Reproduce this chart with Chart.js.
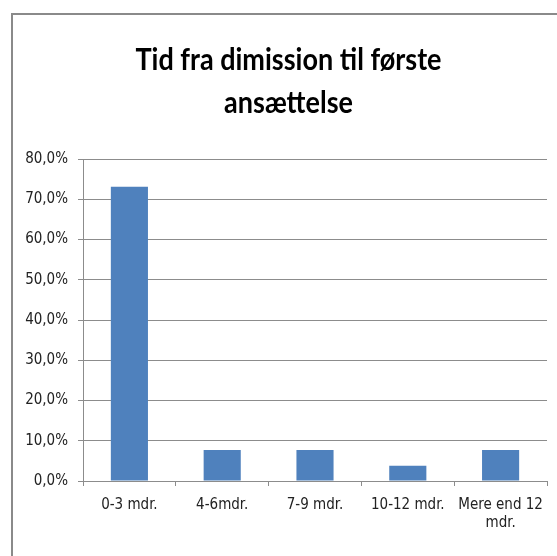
<!DOCTYPE html>
<html>
<head>
<meta charset="utf-8">
<script src="https://cdn.jsdelivr.net/npm/chart.js@4/dist/chart.umd.min.js"></script>
<style>
    body { margin: 0; background: #fff; overflow: hidden; }
    #frame {
        position: absolute; left: 11px; top: 13px;
        width: 620px; height: 620px;
        border: 2px solid #8a8a8a;
    }
    #wrap { position: absolute; left: 0; top: 0; width: 557px; height: 556px; }
</style>
</head>
<body>
<div id="frame"></div>
<div id="wrap"><canvas id="chart"></canvas></div>
<script>
// data (percent)
let categories = ["0-3 mdr.", "4-6mdr.", "7-9 mdr.", "10-12 mdr.", ["Mere end 12", "mdr."]];
let shares = [73.1, 7.7, 7.7, 3.8, 7.7];
let titleLines = ["Tid fra dimission til første", "ansættelse"];

const fontFam = "'Liberation Sans Narrow', 'DejaVu Sans Condensed', 'Liberation Sans', sans-serif";
const gridColor = "#8c8c8c";

// title drawn a bit squeezed, like the original Calibri heading
const squeezedTitle = {
    id: "squeezedTitle",
    afterDraw(chart) {
        const ctx = chart.ctx;
        ctx.save();
        ctx.font = "bold 30px Lato, " + fontFam;
        ctx.fillStyle = "#000";
        ctx.textAlign = "center";
        ctx.textBaseline = "alphabetic";
        const cx = chart.width / 2 + 10;
        const sx = 306 / ctx.measureText(titleLines[0]).width;
        const baselines = [70, 113];
        titleLines.forEach((line, i)=> {
            ctx.save();
            ctx.translate(cx, baselines[i]);
            ctx.scale(sx, 1);
            ctx.fillText(line, 0, 0);
            ctx.restore();
        });
        ctx.restore();
    }
};

window.onload = ()=> {
    new Chart("chart", {
        type: "bar",
        data: {
            labels: categories,
            datasets: [{
                data: shares,
                backgroundColor: "#4f81bd",
                barPercentage: 0.8,
                categoryPercentage: 0.5
            }]
        },
        plugins: [squeezedTitle],
        options: {
            responsive: true,
            maintainAspectRatio: false,
            animation: false,
            layout: {padding: {left: 0, right: 10, top: 159, bottom: 0}},
            plugins: {
                legend: {display: false},
                tooltip: {enabled: false},
                title: {display: false}
            },
            scales: {
                x: {
                    offset: true,
                    grid: {
                        offset: true,
                        drawOnChartArea: false,
                        drawTicks: true,
                        tickLength: 5,
                        color: gridColor
                    },
                    border: {color: gridColor, width: 1},
                    ticks: {
                        color: "#222",
                        padding: 10,
                        maxRotation: 0,
                        autoSkip: false,
                        font: {family: fontFam, size: 15}
                    },
                    afterFit: (s)=> { s.height = 75; }
                },
                y: {
                    min: 0,
                    max: 80,
                    grid: {color: gridColor, tickLength: 5},
                    border: {color: gridColor, width: 1},
                    ticks: {
                        stepSize: 10,
                        color: "#222",
                        padding: 10,
                        font: {family: fontFam, size: 15},
                        callback: (v)=> v.toFixed(1).replace(".", ",") + "%"
                    },
                    afterFit: (s)=> { s.width = 83; }
                }
            }
        }
    });
};
</script>
</body>
</html>
